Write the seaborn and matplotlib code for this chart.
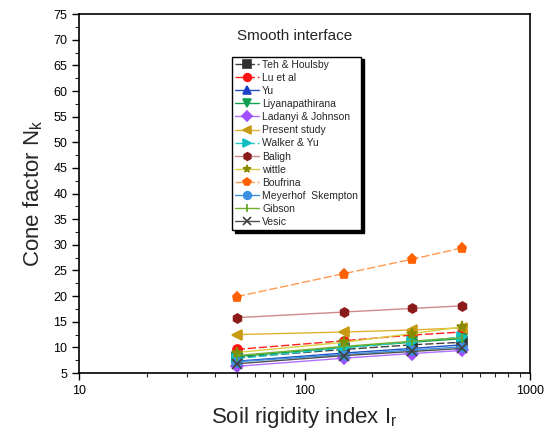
import matplotlib
matplotlib.use("Agg")
import matplotlib.pyplot as plt
from matplotlib.ticker import MultipleLocator, LogLocator, NullFormatter, FixedLocator, FixedFormatter
import seaborn as sns
import pandas as pd

# Rigidity index values at which each method was evaluated
rigidity_index = [50, 150, 300, 500]

teh_houlsby = [8.0, 9.6, 10.5, 11.0]
lu_et_al = [9.6, 11.3, 12.4, 13.0]
yu = [7.3, 8.9, 9.8, 10.5]
liyanapathirana = [8.2, 10.0, 11.0, 11.7]
ladanyi_johnson = [6.3, 7.9, 8.8, 9.4]
present_study = [12.5, 13.0, 13.4, 13.8]
walker_yu = [7.8, 9.9, 11.1, 12.0]
baligh = [15.8, 16.9, 17.6, 18.1]
wittle = [9.0, 11.0, 12.7, 14.0]
boufrina = [19.9, 24.4, 27.2, 29.4]
meyerhof_skempton = [7.2, 8.6, 9.5, 10.1]
gibson = [8.4, 10.2, 11.2, 11.9]
vesic = [6.8, 8.4, 9.2, 9.8]

series_names = ["Teh & Houlsby", "Lu et al", "Yu", "Liyanapathirana",
                "Ladanyi & Johnson", "Present study", "Walker & Yu", "Baligh",
                "wittle", "Boufrina", "Meyerhof  Skempton", "Gibson", "Vesic"]
series_values = [teh_houlsby, lu_et_al, yu, liyanapathirana, ladanyi_johnson,
                 present_study, walker_yu, baligh, wittle, boufrina,
                 meyerhof_skempton, gibson, vesic]

# line colour, marker colour, marker, line style
styles = {
    "Teh & Houlsby": ("#404040", "#303030", "s", (0, (6, 2))),
    "Lu et al": ("#ff2020", "#ff1010", "o", (0, (6, 2))),
    "Yu": ("#2050c0", "#1a40c8", "^", "-"),
    "Liyanapathirana": ("#10a050", "#10a050", "v", "-"),
    "Ladanyi & Johnson": ("#b070ff", "#a050ff", "D", "-"),
    "Present study": ("#e0b030", "#c89a10", "<", "-"),
    "Walker & Yu": ("#20c8c8", "#10c0c0", ">", (0, (6, 2))),
    "Baligh": ("#d08888", "#8b1a1a", "h", "-"),
    "wittle": ("#d8d040", "#8a8a00", "*", "-"),
    "Boufrina": ("#ff9a50", "#ff6000", "p", (0, (6, 2))),
    "Meyerhof  Skempton": ("#3d8fe0", "#3d8fe0", "o", "-"),
    "Gibson": ("#70b030", "#60a020", "|", "-"),
    "Vesic": ("#505050", "#404040", "x", "-"),
}

rows = []
for name, vals in zip(series_names, series_values):
    for ir, v in zip(rigidity_index, vals):
        rows.append({"method": name, "Ir": ir, "Nk": v})
df = pd.DataFrame(rows)

sns.set_theme(style="white")
plt.rcParams["font.family"] = ["Liberation Sans", "DejaVu Sans"]

fig = plt.figure(figsize=(5.58, 4.43), dpi=100)
ax = fig.add_axes([0.1416, 0.158, 0.8084, 0.81])

for name in series_names:
    lc, mc, mk, ls = styles[name]
    sub = df[df["method"] == name]
    ms = 8 if mk == "*" else 6.5
    sns.lineplot(data=sub, x="Ir", y="Nk", ax=ax, color=lc, linestyle=ls,
                 linewidth=1.0, marker=mk, markersize=ms,
                 markerfacecolor=mc, markeredgecolor=mc, markeredgewidth=1.2,
                 label=name, legend=False)

ax.set_xscale("log")
ax.set_xlim(10, 1000)
ax.set_ylim(5, 75)
ax.xaxis.set_major_locator(FixedLocator([10, 100, 1000]))
ax.xaxis.set_major_formatter(FixedFormatter(["10", "100", "1000"]))
ax.xaxis.set_minor_locator(LogLocator(base=10, subs=range(2, 10)))
ax.xaxis.set_minor_formatter(NullFormatter())
ax.yaxis.set_major_locator(MultipleLocator(5))
ax.yaxis.set_minor_locator(MultipleLocator(2.5))

ax.tick_params(axis="both", which="major", direction="out", length=5, width=1,
               labelsize=9, colors="black", bottom=True, left=True)
ax.tick_params(axis="both", which="minor", direction="out", length=3, width=0.8,
               bottom=True, left=True)
for sp in ax.spines.values():
    sp.set_color("black")
    sp.set_linewidth(1.2)

ax.set_xlabel("Soil rigidity index I$_\\mathregular{r}$", fontsize=16, labelpad=6)
ax.set_ylabel("Cone factor N$_\\mathregular{k}$", fontsize=16, labelpad=6)

ax.text(0.479, 0.94, "Smooth interface", transform=ax.transAxes,
        ha="center", va="center", fontsize=11)

handles, labels = ax.get_legend_handles_labels()
leg = ax.legend(handles, labels, loc="upper left", bbox_to_anchor=(0.339, 0.882),
                fontsize=7.5, frameon=True, fancybox=False, edgecolor="black",
                framealpha=1, shadow={"color": "black", "alpha": 1},
                labelspacing=0.3, handlelength=2.3, handletextpad=0.3,
                borderpad=0.3, borderaxespad=0)
leg.get_frame().set_linewidth(1.0)
for h in leg.legend_handles:
    h.set_markersize(5.5)

fig.savefig("out.png", dpi=100)
